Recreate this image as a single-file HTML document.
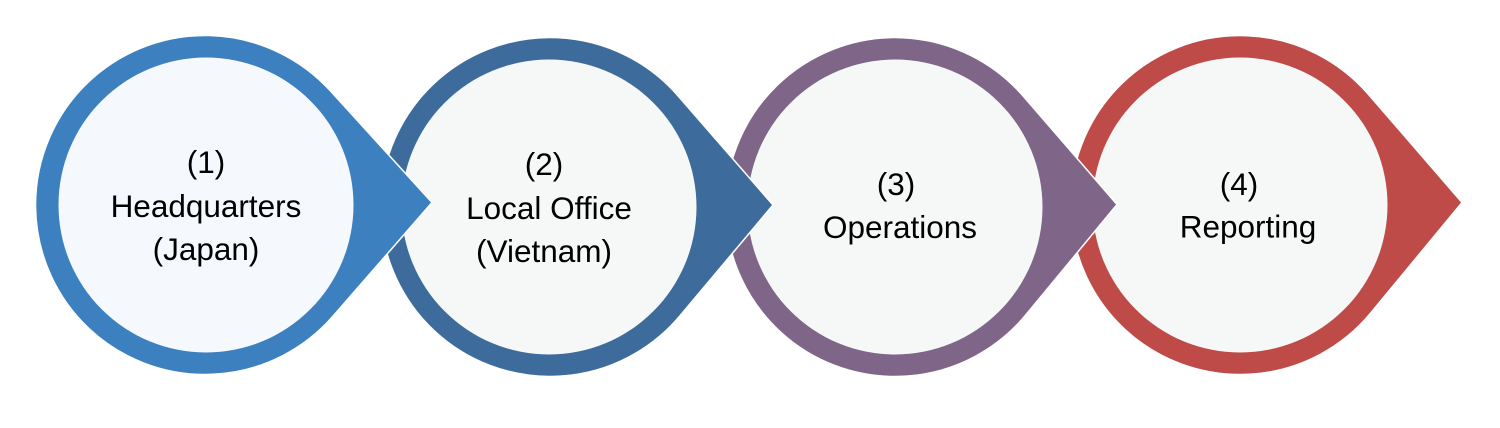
<!DOCTYPE html>
<html>
<head>
<meta charset="utf-8">
<style>
  html, body { margin: 0; padding: 0; background: #ffffff; }
  body { width: 1500px; height: 428px; overflow: hidden; }
  svg { display: block; }
  text { font-family: "Liberation Sans", Arial, sans-serif; font-size: 31.5px; fill: #000; text-anchor: middle; }
</style>
</head>
<body>
<svg width="1500" height="428" viewBox="0 0 1500 428" xmlns="http://www.w3.org/2000/svg">
  <rect width="1500" height="428" fill="#ffffff"/>

  <!-- Shape 4 (red) -->
  <path d="M1368.2,94.1 L1462,202.5 L1370.7,313 A169.5,169.5 0 1 1 1368.2,94.1 Z"
        fill="#BE4B48" stroke="#ffffff" stroke-width="1.5" stroke-linejoin="round"/>
  <circle cx="1240" cy="205" r="147.5" fill="#F6F8F8"/>

  <!-- Shape 3 (purple) -->
  <path d="M1023.2,96.1 L1117,204.5 L1025.7,315 A169.5,169.5 0 1 1 1023.2,96.1 Z"
        fill="#7F6689" stroke="#ffffff" stroke-width="1.5" stroke-linejoin="round"/>
  <circle cx="895" cy="207" r="147.5" fill="#F6F8F8"/>

  <!-- Shape 2 (dark blue) -->
  <path d="M677.9,95.7 L773,205 L679.8,316 A169.5,169.5 0 1 1 677.9,95.7 Z"
        fill="#3D6C9C" stroke="#ffffff" stroke-width="1.5" stroke-linejoin="round"/>
  <circle cx="549" cy="207" r="147.5" fill="#F6F8F8"/>

  <!-- Shape 1 (blue) -->
  <path d="M330.4,90.9 L432,202.5 L332.8,316.4 A169.5,169.5 0 1 1 330.4,90.9 Z"
        fill="#3D80BF" stroke="#ffffff" stroke-width="1.5" stroke-linejoin="round"/>
  <circle cx="206" cy="205" r="147.5" fill="#F5F9FE"/>

  <!-- Labels -->
  <text x="206" y="173">(1)</text>
  <text x="206" y="217">Headquarters</text>
  <text x="206" y="260">(Japan)</text>

  <text x="544" y="175">(2)</text>
  <text x="549" y="219">Local Office</text>
  <text x="544" y="262">(Vietnam)</text>

  <text x="896" y="195">(3)</text>
  <text x="900" y="238">Operations</text>

  <text x="1239" y="195">(4)</text>
  <text x="1248" y="237.5">Reporting</text>
</svg>
</body>
</html>
